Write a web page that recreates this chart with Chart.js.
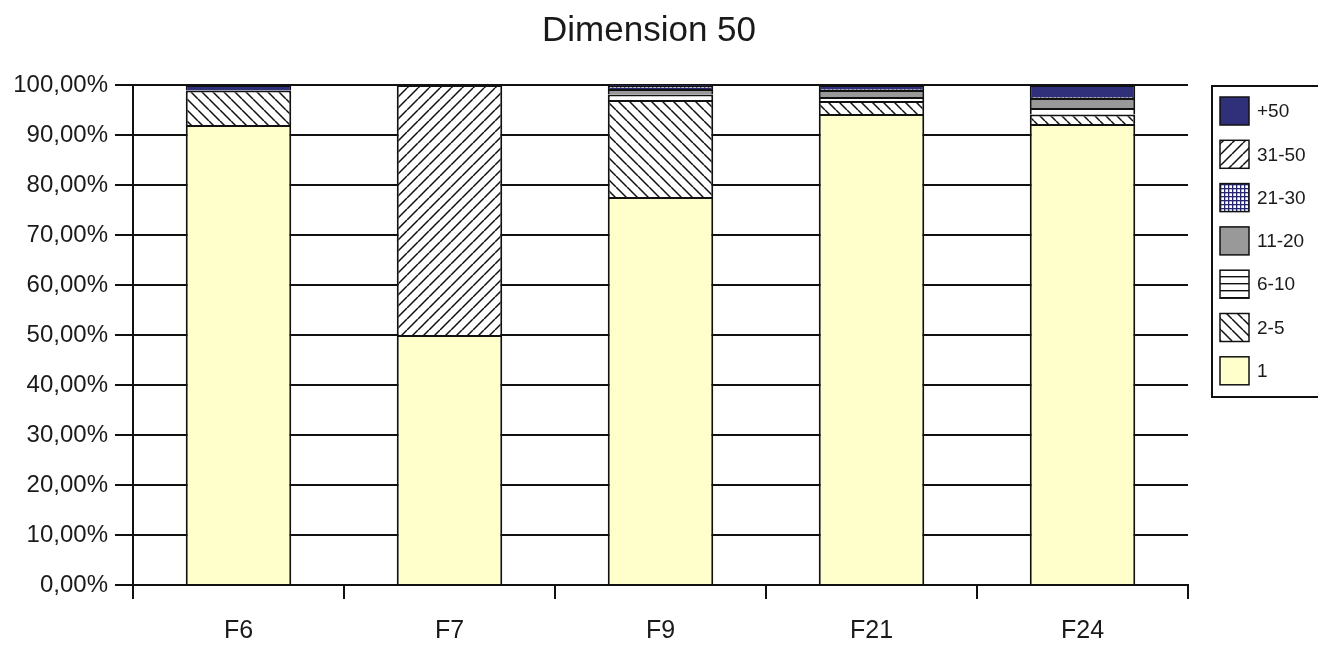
<!DOCTYPE html>
<html>
<head>
<meta charset="utf-8">
<script src="https://cdn.jsdelivr.net/npm/chart.js@4.4.1/dist/chart.umd.min.js"></script>
<style>
  html, body { margin: 0; padding: 0; background: #ffffff; }
  #wrap { width: 1318px; height: 645px; position: relative; }
</style>
</head>
<body>
<div id="wrap"><canvas id="c" width="1318" height="645"></canvas></div>
<script>
// Categories, tick labels and series (percent of each column)
const chartTitle = 'Dimension 50';
const categories = ['F6', 'F7', 'F9', 'F21', 'F24'];
const yTickLabels = ['0,00%', '10,00%', '20,00%', '30,00%', '40,00%', '50,00%',
                     '60,00%', '70,00%', '80,00%', '90,00%', '100,00%'];
const seriesNames = ['1', '2-5', '6-10', '11-20', '21-30', '31-50', '+50'];
const s1     = [92.0, 50.0, 77.6, 94.2, 92.2];
const s2to5  = [6.9, null, 19.4, 2.6, 1.9];
const s6to10 = [null, null, 1.1, 0.8, 1.3];
const s11to20 = [null, null, 1.1, 1.4, 2.0];
const s21to30 = [null, null, 0.6, 0.2, 0.2];
const s31to50 = [null, 50.0, null, null, null];
const s50plus = [1.1, null, 0.2, 0.8, 2.4];

const ink = '#1a1a1a';
const fontFam = '"Liberation Sans", Arial, sans-serif';

// Fill patterns for the hatched series
function makePattern(kind) {
  const t = document.createElement('canvas');
  const g = t.getContext('2d');
  let s;
  if (kind === 'back' || kind === 'fwd') {
    s = 11;
    t.width = s; t.height = s;
    g.fillStyle = '#ffffff'; g.fillRect(0, 0, s, s);
    g.strokeStyle = '#111'; g.lineWidth = 1.5;
    g.beginPath();
    for (let k = -1; k <= 1; k++) {
      if (kind === 'back') { g.moveTo(k * s, 0); g.lineTo(k * s + s, s); }
      else { g.moveTo(k * s, s); g.lineTo(k * s + s, 0); }
    }
    g.stroke();
  } else if (kind === 'horiz') {
    t.width = 8; t.height = 7;
    g.fillStyle = '#ffffff'; g.fillRect(0, 0, 8, 7);
    g.fillStyle = '#111'; g.fillRect(0, 3, 8, 1.4);
  } else if (kind === 'grid') {
    t.width = 4; t.height = 4;
    g.fillStyle = '#ffffff'; g.fillRect(0, 0, 4, 4);
    g.fillStyle = '#26266e';
    g.fillRect(0, 0, 4, 1.3);
    g.fillRect(0, 0, 1.3, 4);
  }
  return g.createPattern(t, 'repeat');
}

const fills = [
  '#ffffcc',
  makePattern('back'),
  makePattern('horiz'),
  '#999999',
  makePattern('grid'),
  makePattern('fwd'),
  '#30307a'
];
const seriesData = [s1, s2to5, s6to10, s11to20, s21to30, s31to50, s50plus];

// Each segment skips its bottom edge so stacked boundaries stay one line thick
const datasets = seriesNames.map((name, i) => ({
  label: name,
  data: seriesData[i],
  backgroundColor: fills[i],
  borderColor: '#111',
  borderWidth: 2,
  borderSkipped: 'start',
  categoryPercentage: 1.0,
  barPercentage: 0.5
}));

// Title and boxed legend on the right
const decorations = {
  id: 'decorations',
  afterDraw(chart) {
    const ctx = chart.ctx;
    ctx.save();
    ctx.fillStyle = ink;
    ctx.font = '35px ' + fontFam;
    ctx.textAlign = 'center';
    ctx.textBaseline = 'middle';
    ctx.fillText(chartTitle, 649, 31);

    ctx.strokeStyle = '#111';
    ctx.lineWidth = 2;
    ctx.strokeRect(1212, 86, 120, 311);

    const ds = chart.data.datasets;
    ctx.font = '19px ' + fontFam;
    ctx.textAlign = 'left';
    for (let j = 0; j < ds.length; j++) {
      const d = ds[ds.length - 1 - j];
      const cy = 111 + j * 43.3;
      ctx.fillStyle = d.backgroundColor;
      ctx.fillRect(1220, cy - 14, 29, 28);
      ctx.lineWidth = 1.5;
      ctx.strokeRect(1220, cy - 14, 29, 28);
      ctx.fillStyle = ink;
      ctx.fillText(d.label, 1257, cy + 1);
    }
    ctx.restore();
  }
};

new Chart(document.getElementById('c'), {
  type: 'bar',
  data: { labels: categories, datasets },
  plugins: [decorations],
  options: {
    responsive: false,
    animation: false,
    layout: { padding: { top: 85, right: 130, left: 0, bottom: 0 } },
    plugins: {
      legend: { display: false },
      title: { display: false },
      tooltip: { enabled: false }
    },
    scales: {
      x: {
        stacked: true,
        offset: true,
        afterFit(scale) { scale.height = 60; },
        grid: {
          offset: true,
          drawOnChartArea: false,
          drawTicks: true,
          tickLength: 14,
          color: '#111',
          lineWidth: 2
        },
        border: { display: true, color: '#111', width: 2 },
        ticks: {
          color: ink,
          padding: 17,
          font: { family: fontFam, size: 25 }
        }
      },
      y: {
        stacked: true,
        min: 0,
        max: 100,
        afterFit(scale) { scale.width = 133; },
        grid: {
          color: '#111',
          lineWidth: 2,
          drawTicks: true,
          tickLength: 18
        },
        border: { display: true, color: '#111', width: 2 },
        ticks: {
          stepSize: 10,
          padding: 7,
          color: ink,
          font: { family: fontFam, size: 24 },
          callback: (v, i) => yTickLabels[i]
        }
      }
    }
  }
});
</script>
</body>
</html>
